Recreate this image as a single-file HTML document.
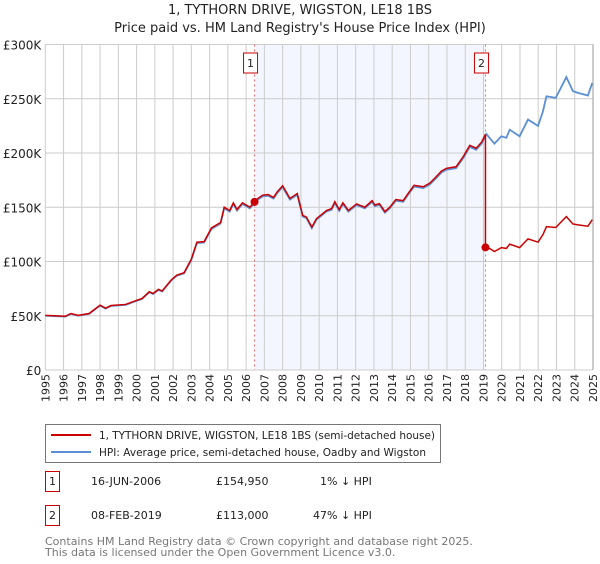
<!DOCTYPE html>
<html><head><meta charset="utf-8"><style>
body{margin:0;background:#fff;width:600px;height:560px;overflow:hidden;font-family:"DejaVu Sans","Liberation Sans",sans-serif;}
svg text{font-family:"DejaVu Sans","Liberation Sans",sans-serif;}
</style></head><body>
<svg id="chart" width="600" height="560" xmlns="http://www.w3.org/2000/svg">
<text x="300" y="14" text-anchor="middle" font-size="13" fill="#222">1, TYTHORN DRIVE, WIGSTON, LE18 1BS</text>
<text x="300" y="32" text-anchor="middle" font-size="13" fill="#222">Price paid vs. HM Land Registry's House Price Index (HPI)</text>
<g id="plot"></g>
<g>
<rect x="45.5" y="424.5" width="395" height="38" fill="#fff" stroke="#777"/>
<line x1="51" y1="435" x2="91" y2="435" stroke="#cc0000" stroke-width="2"/>
<text x="99" y="439" font-size="10.5" fill="#222" textLength="336">1, TYTHORN DRIVE, WIGSTON, LE18 1BS (semi-detached house)</text>
<line x1="51" y1="452" x2="91" y2="452" stroke="#5b8fd4" stroke-width="2"/>
<text x="99" y="456" font-size="10.5" fill="#222" textLength="327">HPI: Average price, semi-detached house, Oadby and Wigston</text>
</g>
<g font-size="11" fill="#222">
<rect x="45.5" y="471.5" width="14" height="20" fill="#fff" stroke="#cc0000"/>
<text x="52.5" y="485" text-anchor="middle">1</text>
<text x="91" y="485">16-JUN-2006</text>
<text x="216" y="485">£154,950</text>
<text x="320" y="485">1% ↓ HPI</text>
<rect x="45.5" y="505.5" width="14" height="20" fill="#fff" stroke="#cc0000"/>
<text x="52.5" y="519" text-anchor="middle">2</text>
<text x="91" y="519">08-FEB-2019</text>
<text x="216" y="519">£113,000</text>
<text x="313" y="519">47% ↓ HPI</text>
</g>
<text x="45" y="545" font-size="11" fill="#777">Contains HM Land Registry data © Crown copyright and database right 2025.</text>
<text x="45" y="556" font-size="11" fill="#777">This data is licensed under the Open Government Licence v3.0.</text>
</svg>
<script>
const hpiYears=[1995.0,1996.1,1996.4,1996.8,1997.4,1998.0,1998.3,1998.6,1999.4,1999.8,2000.3,2000.7,2000.9,2001.2,2001.4,2001.9,2002.2,2002.6,2003.0,2003.3,2003.7,2004.1,2004.6,2004.8,2005.1,2005.3,2005.5,2005.8,2006.2,2006.6,2006.9,2007.2,2007.5,2007.7,2008.0,2008.4,2008.8,2009.1,2009.3,2009.6,2009.85,2010.4,2010.68,2010.86,2011.1,2011.3,2011.6,2012.05,2012.5,2012.9,2013.05,2013.3,2013.6,2013.87,2014.2,2014.6,2014.87,2015.2,2015.7,2016.06,2016.33,2016.7,2016.97,2017.5,2017.9,2018.25,2018.6,2018.9,2019.16,2019.6,2019.98,2020.25,2020.44,2020.98,2021.44,2021.99,2022.26,2022.45,2022.96,2023.54,2023.9,2024.18,2024.72,2024.96];
const hpiValues=[50000,49200,51700,50000,51700,59400,56600,59000,60000,62500,65500,71700,70000,73800,72300,82500,86800,89000,101500,117000,117500,130000,135000,149000,146000,153000,147000,153000,149000,156500,160000,160600,158000,163000,168600,157000,161500,141500,140000,130800,138500,146000,147700,154000,146800,153000,146000,152000,149000,155000,151000,152300,145000,149000,156000,155000,161500,169000,167700,171000,175500,182000,184600,186000,195500,205600,203000,208600,217500,208600,215400,214000,221500,215400,230800,225000,238500,252300,250800,270000,257000,255400,253000,264600,255400];
const saleYears=[2006.46,2019.11];
const salePrices=[154950,113000];
const saleLabels=["1","2"];
const yTicks=[0,50000,100000,150000,200000,250000,300000];
const yTickLabels=["£0","£50K","£100K","£150K","£200K","£250K","£300K"];
const xTicks=[1995,1996,1997,1998,1999,2000,2001,2002,2003,2004,2005,2006,2007,2008,2009,2010,2011,2012,2013,2014,2015,2016,2017,2018,2019,2020,2021,2022,2023,2024,2025];

const L=45.3,R=593,T=44.5,B=370;
const xs=y=>L+(y-1995)/30*(R-L);
const ys=v=>B-v/300000*(B-T);
const NS="http://www.w3.org/2000/svg";
const g=document.getElementById('plot');
function mk(tag,attrs,parent){const e=document.createElementNS(NS,tag);for(const k in attrs)e.setAttribute(k,attrs[k]);(parent||g).appendChild(e);return e;}
function hpiAt(t){for(let i=0;i<hpiYears.length-1;i++){if(t<=hpiYears[i+1]){const f=(t-hpiYears[i])/(hpiYears[i+1]-hpiYears[i]);return hpiValues[i]+f*(hpiValues[i+1]-hpiValues[i]);}}return hpiValues[hpiValues.length-1];}

const shade=mk('rect',{x:xs(saleYears[0]),y:T,width:xs(saleYears[1])-xs(saleYears[0]),height:B-T,fill:'#f3f6fe'});


yTicks.forEach((v,i)=>{
 const l=mk('line',{x1:L,x2:R,y1:ys(v),y2:ys(v),stroke:'#ccc','stroke-width':1});
 
 
 const t=mk('text',{x:L-4,y:ys(v)+5,'text-anchor':'end','font-size':12,fill:'#222'});
 t.textContent=yTickLabels[i];
 
 
});
xTicks.forEach(yr=>{
 const l=mk('line',{x1:xs(yr),x2:xs(yr),y1:T,y2:B,stroke:'#ccc','stroke-width':1});
 
 
 const t=mk('text',{transform:`translate(${xs(yr)+4},${B+4}) rotate(-90)`,'text-anchor':'end','font-size':11,fill:'#222'});
 t.textContent=String(yr);
 
 
});
saleYears.forEach((yr,i)=>{
 const l=mk('line',{x1:xs(yr),x2:xs(yr),y1:T,y2:B,stroke:'#f07070','stroke-width':1,'stroke-dasharray':'2,3'});
 
 
 const r=mk('rect',{x:xs(yr)-11,y:53,width:14,height:20,fill:'#fff',stroke:'#cc0000'});
 
 
 const t=mk('text',{x:xs(yr)-4,y:67,'text-anchor':'middle','font-size':11,fill:'#222'});
 t.textContent=saleLabels[i];
 
 
});
const hp=mk('polyline',{points:hpiYears.map((y,i)=>xs(y)+','+ys(hpiValues[i])).join(' '),fill:'none',stroke:'#5b8fd4','stroke-width':1.8});


const f1=salePrices[0]/hpiAt(saleYears[0]),f2=salePrices[1]/hpiAt(saleYears[1]);
let pts=[];
hpiYears.forEach((y,i)=>{if(y<saleYears[1])pts.push([y,hpiValues[i]*f1]);});
pts.push([saleYears[1],hpiAt(saleYears[1])*f1]);
pts.push([saleYears[1],salePrices[1]]);
hpiYears.forEach((y,i)=>{if(y>saleYears[1])pts.push([y,hpiValues[i]*f2]);});
const pp=mk('polyline',{points:pts.map(p=>xs(p[0])+','+ys(p[1])).join(' '),fill:'none',stroke:'#cc0000','stroke-width':1.5});


saleYears.forEach((yr,i)=>{
 const c=mk('circle',{cx:xs(yr),cy:ys(salePrices[i]),r:4,fill:'#cc0000'});
 
 
});
const ax=mk('line',{x1:R,x2:R,y1:T,y2:B,stroke:'#999','stroke-width':1});


</script>
</body></html>
